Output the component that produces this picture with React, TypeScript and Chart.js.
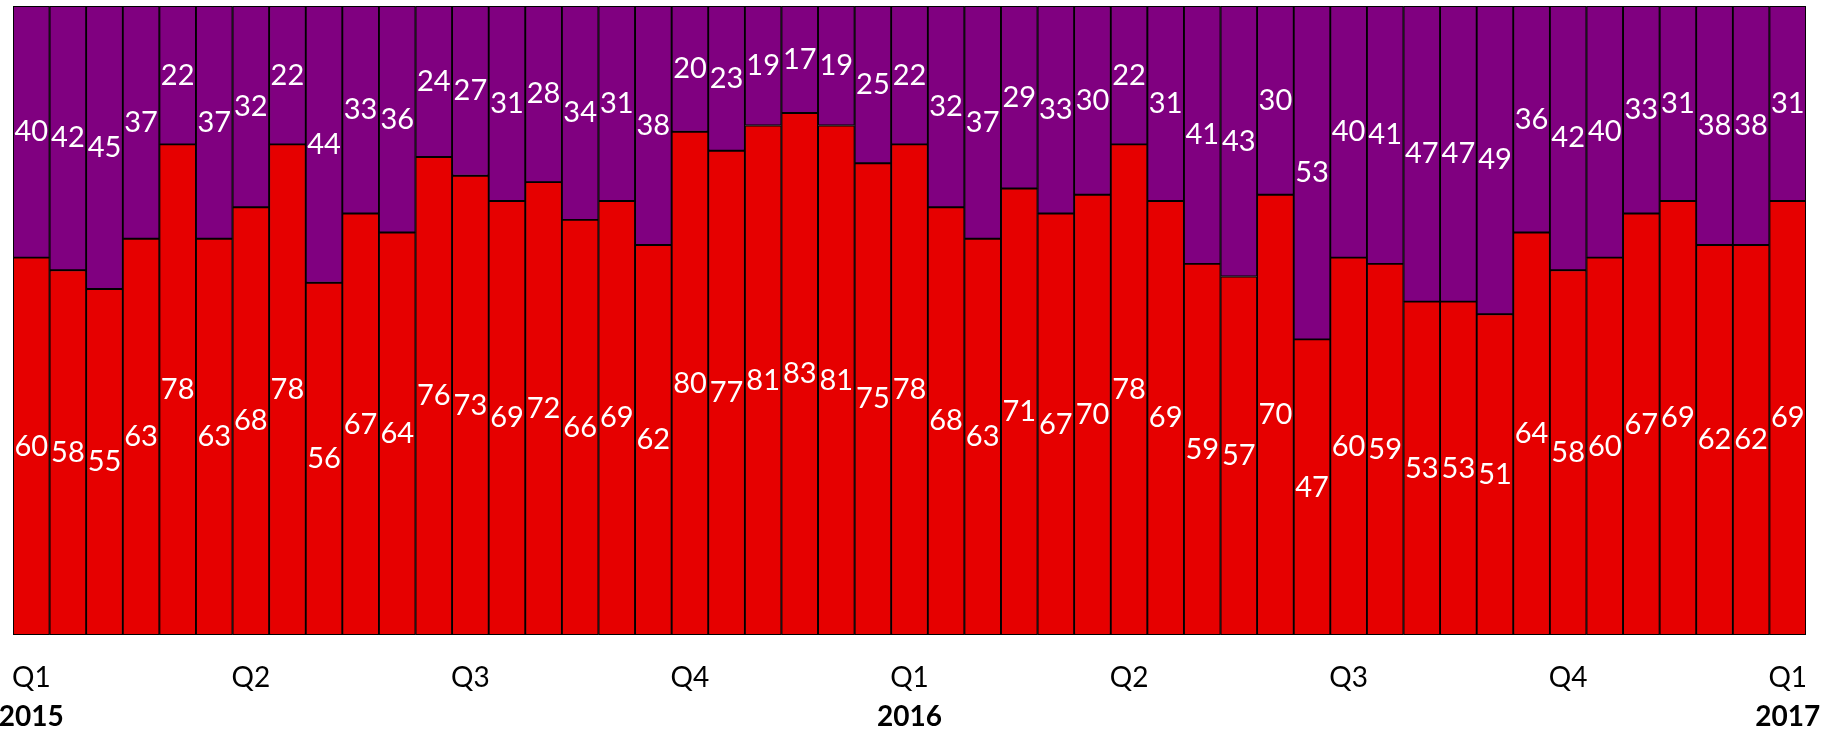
import React, { useEffect, useRef } from "react";
import { Chart, registerables } from "chart.js";

Chart.register(...registerables);

const redValues = [60, 58, 55, 63, 78, 63, 68, 78, 56, 67, 64, 76, 73, 69, 72, 66, 69, 62, 80, 77, 81, 83, 81, 75, 78, 68, 63, 71, 67, 70, 78, 69, 59, 57, 70, 47, 60, 59, 53, 53, 51, 64, 58, 60, 67, 69, 62, 62, 69];
const purpleValues = [40, 42, 45, 37, 22, 37, 32, 22, 44, 33, 36, 24, 27, 31, 28, 34, 31, 38, 20, 23, 19, 17, 19, 25, 22, 32, 37, 29, 33, 30, 22, 31, 41, 43, 30, 53, 40, 41, 47, 47, 49, 36, 42, 40, 33, 31, 38, 38, 31];

const quarterTicks: Record<number, string> = { 0: "Q1", 6: "Q2", 12: "Q3", 18: "Q4", 24: "Q1", 30: "Q2", 36: "Q3", 42: "Q4", 48: "Q1" };
const yearTicks: Record<number, string> = { 0: "2015", 24: "2016", 48: "2017" };

const categories = redValues.map((_, i) => quarterTicks[i] ?? "");
const yearLabels = redValues.map((_, i) => yearTicks[i] ?? "");

const RED = "#E60000";
const PURPLE = "#800080";
const FONT = "Lato";

const segmentLabels = {
  id: "segmentLabels",
  afterDatasetsDraw(chart: any) {
    const ctx = chart.ctx;
    ctx.save();
    ctx.fillStyle = "#ffffff";
    ctx.font = `29px ${FONT}`;
    ctx.textAlign = "center";
    ctx.textBaseline = "middle";
    chart.data.datasets.forEach((ds: any, di: number) => {
      const meta = chart.getDatasetMeta(di);
      meta.data.forEach((bar: any, i: number) => {
        const p = bar.getProps(["x", "y", "base"], true);
        ctx.fillText(String(ds.data[i]), p.x, (p.y + p.base) / 2);
      });
    });
    ctx.restore();
  },
};

const yearAxisLabels = {
  id: "yearAxisLabels",
  afterDraw(chart: any) {
    const ctx = chart.ctx;
    const xs = chart.scales.x;
    ctx.save();
    ctx.fillStyle = "#000000";
    ctx.font = `bold 28px ${FONT}`;
    ctx.textAlign = "center";
    ctx.textBaseline = "middle";
    yearLabels.forEach((lab, i) => {
      if (!lab) return;
      ctx.fillText(lab, xs.getPixelForValue(i), 717);
    });
    ctx.restore();
  },
};

export default function App() {
  const ref = useRef<HTMLCanvasElement | null>(null);
  useEffect(() => {
    if (!ref.current) return;
    const chart = new Chart(ref.current, {
      type: "bar",
      data: {
        labels: categories,
        datasets: [
          {
            label: "Red",
            data: redValues,
            backgroundColor: RED,
            borderColor: "#000000",
            borderWidth: 1.3,
            borderSkipped: false,
            categoryPercentage: 1,
            barPercentage: 1,
          },
          {
            label: "Purple",
            data: purpleValues,
            backgroundColor: PURPLE,
            borderColor: "#000000",
            borderWidth: 1.3,
            borderSkipped: false,
            categoryPercentage: 1,
            barPercentage: 1,
          },
        ],
      },
      options: {
        animation: false,
        responsive: true,
        maintainAspectRatio: false,
        layout: { padding: { left: 13, right: 23, top: 6, bottom: 38 } },
        plugins: { legend: { display: false }, tooltip: { enabled: false } },
        scales: {
          x: {
            stacked: true,
            grid: { display: false, drawTicks: false },
            border: { display: false },
            afterFit(scale: any) {
              scale.height = 60;
              scale.paddingLeft = 0;
              scale.paddingRight = 0;
            },
            ticks: {
              autoSkip: false,
              maxRotation: 0,
              minRotation: 0,
              padding: 26,
              color: "#000000",
              font: { family: FONT, size: 28 },
            },
          },
          y: {
            stacked: true,
            min: 0,
            max: 100,
            display: false,
          },
        },
      },
      plugins: [segmentLabels, yearAxisLabels],
    });
    return () => chart.destroy();
  }, []);
  return (
    <div style={{ position: "fixed", left: 0, top: 0, width: "1829px", height: "733px", background: "#fff" }}>
      <canvas ref={ref} />
    </div>
  );
}
